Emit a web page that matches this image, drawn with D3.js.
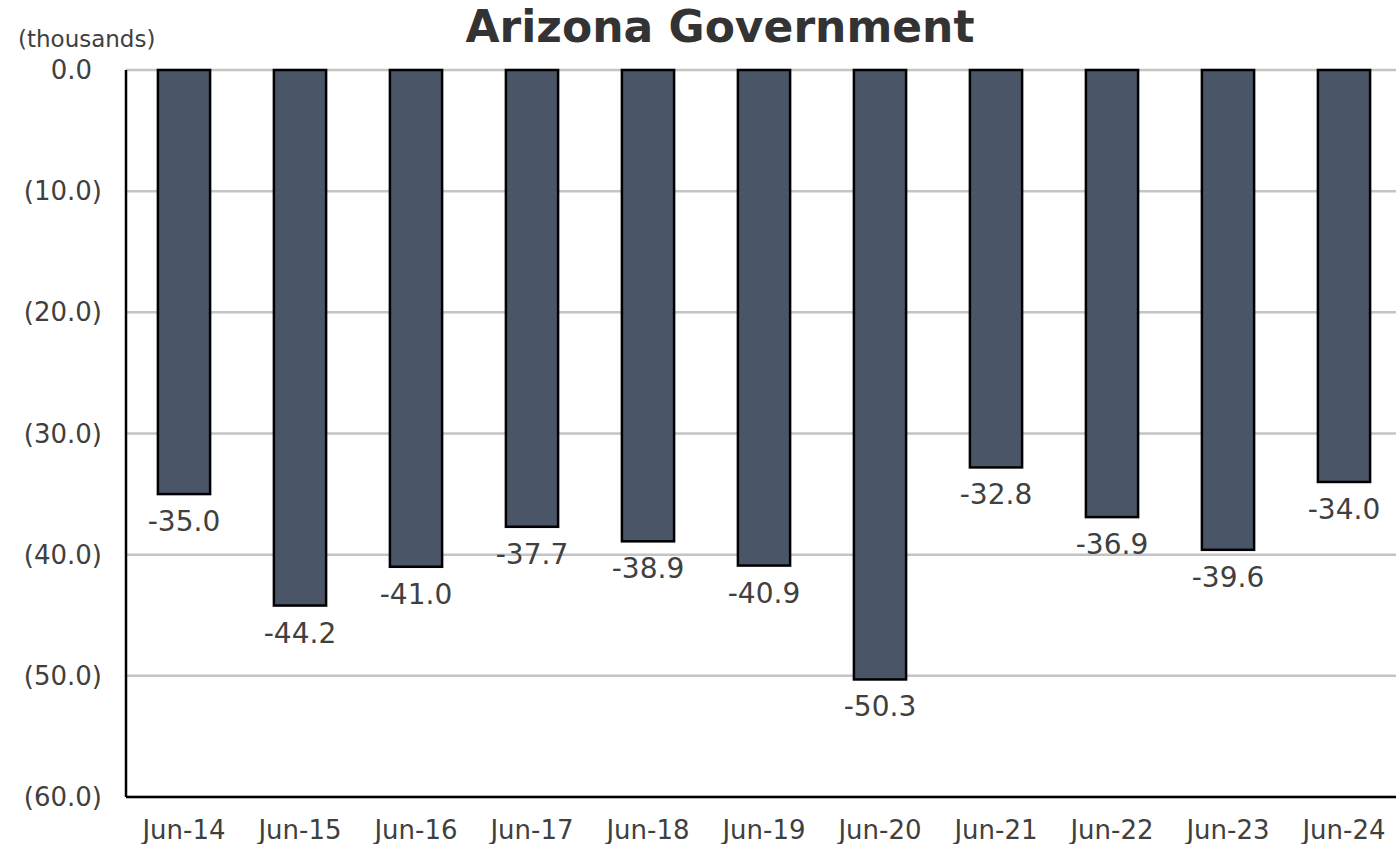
<!DOCTYPE html>
<html>
<head>
<meta charset="utf-8">
<script src="https://cdn.jsdelivr.net/npm/d3@7"></script>
<style>
  body { margin: 0; background: #fff; }
  text { font-family: "DejaVu Sans", Verdana, sans-serif; fill: #404040; }
</style>
</head>
<body>
<svg id="chart"></svg>
<script>
// chart data
var categories = ['Jun-14', 'Jun-15', 'Jun-16', 'Jun-17', 'Jun-18', 'Jun-19',
                  'Jun-20', 'Jun-21', 'Jun-22', 'Jun-23', 'Jun-24'];
var values = [-35.0, -44.2, -41.0, -37.7, -38.9, -40.9, -50.3, -32.8, -36.9, -39.6, -34.0];
var yTicks = [0, -10, -20, -30, -40, -50, -60];
var chartTitle = 'Arizona Government';
var unitLabel = '(thousands)';

function main() {
    const width = 1396;
    const height = 844;
    const left = 126, right = 1402, top = 70, bottom = 797;

    // plain hyphen for negatives, like the source
    const fmt = d3.formatLocale({decimal: '.', thousands: ',', grouping: [3], currency: ['', ''], minus: '-'}).format('.1f');

    const svg = d3.select('#chart')
        .attr('width', width)
        .attr('height', height);

    const x = d3.scaleBand()
        .domain(categories)
        .range([left, right])
        .paddingInner(0.55)
        .paddingOuter(0.275);

    const y = d3.scaleLinear()
        .domain([-60, 0])
        .range([bottom, top]);

    // gridlines
    svg.selectAll('.grid')
        .data(yTicks)
        .join('line')
        .attr('class', 'grid')
        .attr('x1', left)
        .attr('x2', width)
        .attr('y1', d => y(d))
        .attr('y2', d => y(d))
        .attr('stroke', '#c4c4c4')
        .attr('stroke-width', 2.5);

    // y tick labels, negative in parentheses
    svg.selectAll('.ytick')
        .data(yTicks)
        .join('text')
        .attr('class', 'ytick')
        .attr('x', 102)
        .attr('dx', d => d < 0 ? 0 : -10)
        .attr('y', d => y(d))
        .attr('dy', '0.35em')
        .attr('text-anchor', 'end')
        .style('font-size', '26px')
        .text(d => d < 0 ? '(' + fmt(-d) + ')' : fmt(d));

    // bars
    svg.selectAll('.bar')
        .data(values)
        .join('rect')
        .attr('class', 'bar')
        .attr('x', (d, i) => x(categories[i]))
        .attr('y', y(0))
        .attr('width', x.bandwidth())
        .attr('height', d => y(d) - y(0))
        .attr('fill', '#4a5568')
        .attr('stroke', '#000')
        .attr('stroke-width', 2.5);

    // data labels
    svg.selectAll('.lbl')
        .data(values)
        .join('text')
        .attr('class', 'lbl')
        .attr('x', (d, i) => x(categories[i]) + x.bandwidth() / 2)
        .attr('y', d => y(d) + 37)
        .attr('text-anchor', 'middle')
        .style('font-size', '28px')
        .text(d => fmt(d));

    // axis lines
    svg.append('line')
        .attr('x1', left).attr('x2', left)
        .attr('y1', top).attr('y2', bottom)
        .attr('stroke', '#000').attr('stroke-width', 2.5);
    svg.append('line')
        .attr('x1', left).attr('x2', width)
        .attr('y1', bottom).attr('y2', bottom)
        .attr('stroke', '#000').attr('stroke-width', 2.5);

    // x labels
    svg.selectAll('.xlbl')
        .data(categories)
        .join('text')
        .attr('class', 'xlbl')
        .attr('x', d => x(d) + x.bandwidth() / 2)
        .attr('y', 839)
        .attr('text-anchor', 'middle')
        .style('font-size', '26px')
        .text(d => d);

    // title and unit
    svg.append('text')
        .attr('x', 720)
        .attr('y', 42)
        .attr('text-anchor', 'middle')
        .style('font-size', '44px')
        .style('font-weight', 'bold')
        .style('fill', '#333')
        .text(chartTitle);

    svg.append('text')
        .attr('x', 18)
        .attr('y', 47)
        .style('font-size', '23px')
        .text(unitLabel);
}
main();
</script>
</body>
</html>
